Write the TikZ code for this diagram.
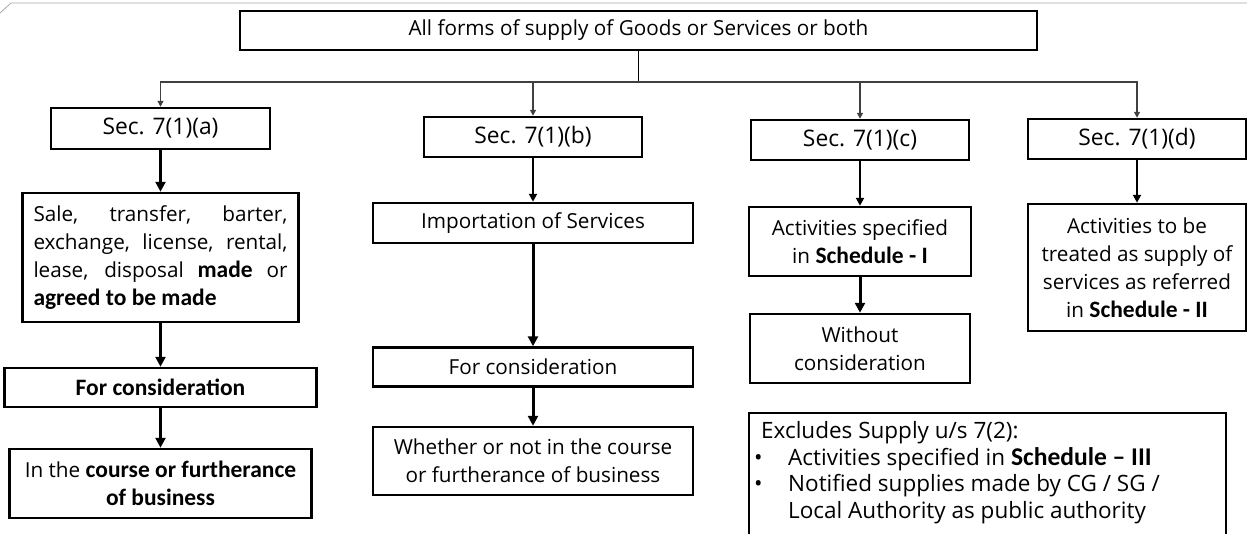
\documentclass[tikz,border=0pt]{standalone}
\usepackage{fontspec}
\setmainfont{Open Sans}
\newfontfamily\calfont{Carlito}[Scale=1.135]
\newcommand\boldc[1]{{\calfont\bfseries #1}}
\usetikzlibrary{arrows.meta}
\tikzset{
  box/.style={draw, line width=2.5pt, inner sep=0pt, align=center, font=\fontsize{20.7}{28}\selectfont},
  secbox/.style={box, font=\fontsize{22.8}{28}\selectfont},
  thin/.style={line width=1.3pt, -{Triangle[length=6pt,width=6pt]}},
  med/.style={line width=2pt, -{Triangle[length=8pt,width=8pt]}},
  thick/.style={line width=3pt, -{Triangle[length=10pt,width=10pt]}},
}
\begin{document}
\begin{tikzpicture}[x=1pt,y=-1pt]
\useasboundingbox (0,0) rectangle (1247,533);
% slide frame artefact
\draw[black!35, line width=0.8pt] (0,13) -- (11,3) -- (1247,3);

\node[box, minimum width=797, minimum height=39] (top) at (638.5,30.5) {All forms of supply of Goods or Services or both};

\node[secbox, minimum width=219, minimum height=41] (seca) at (160.5,128.5) {Sec. 7(1)(a)};
\node[secbox, minimum width=218, minimum height=40] (secb) at (533,137) {Sec. 7(1)(b)};
\node[secbox, minimum width=218, minimum height=40] (secc) at (860,140) {Sec. 7(1)(c)};
\node[secbox, minimum width=218, minimum height=40] (secd) at (1137,139) {Sec. 7(1)(d)};

\coordinate (bus) at (638.5,82);
\draw[line width=1.3pt] (top) -- (bus);
\draw[thin, black!75] (bus) -| (seca);
\draw[thin, black!75] (bus) -| (secb);
\draw[thin, black!75] (bus) -| (secc);
\draw[thin, black!75] (bus) -| (secd);

% column a
\node[box, minimum width=276, minimum height=129, text width=254, align=justify] (sale) at (160.5,257.5)
  {Sale, transfer, barter,\linebreak exchange, license, rental,\linebreak lease, disposal \boldc{made} or\linebreak \boldc{agreed to be made}};
\node[box, minimum width=312, minimum height=39] (fca) at (160.5,387.5) {\boldc{For consideration}};
\node[box, minimum width=302, minimum height=69] (course) at (160.5,483.5) {In the \boldc{course or furtherance}\\\boldc{of business}};
\draw[thick] (seca) -- (sale);
\draw[thick] (sale) -- (fca);
\draw[thick] (fca) -- (course);

% column b
\node[box, minimum width=320, minimum height=40] (imp) at (533,223) {Importation of Services};
\node[box, minimum width=320, minimum height=39] (fcb) at (533,367) {For consideration};
\node[box, minimum width=320, minimum height=68] (whether) at (533,461) {Whether or not in the course\\or furtherance of business};
\draw[med] (secb) -- (imp);
\draw[thick] (imp) -- (fcb);
\draw[thick] (fcb) -- (whether);

% column c
\node[box, minimum width=222, minimum height=69] (act) at (860,241.5) {Activities specified\\in \boldc{Schedule - I}};
\node[box, minimum width=220, minimum height=69] (without) at (860,348.5) {Without\\consideration};
\draw[med] (secc) -- (act);
\draw[thick] (act) -- (without);

% column d
\node[box, minimum width=218, minimum height=127] (act2) at (1137,267.5) {Activities to be\\treated as supply of\\services as referred\\in \boldc{Schedule - II}};
\draw[med] (secd) -- (act2);

% exclusions
\draw[line width=2.5pt] (749,413) rectangle (1226,560);
\node[anchor=north west, inner sep=0pt, align=left, font=\fontsize{22.5}{26.7}\selectfont] (excl) at (754,421)
  {\hspace*{7pt}Excludes Supply u/s 7(2):\\
   \makebox[34pt][l]{•}Activities specified in \boldc{Schedule – III}\\
   \makebox[34pt][l]{•}Notified supplies made by CG / SG /\\
   \hspace*{34pt}Local Authority as public authority};
\end{tikzpicture}
\end{document}
